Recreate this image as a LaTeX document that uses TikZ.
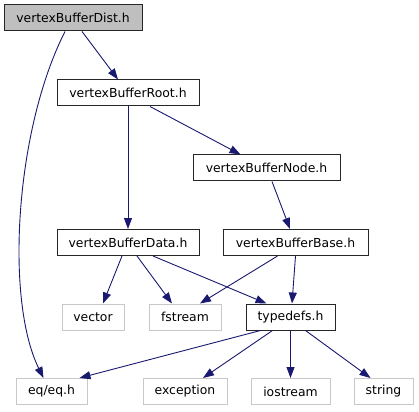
\documentclass[tikz,border=0pt]{standalone}
\usepackage{fontspec}
\setmainfont{DejaVu Sans}
\usetikzlibrary{arrows.meta}
\definecolor{edgeblue}{HTML}{191970}
\definecolor{extgray}{HTML}{C8C8C8}
\definecolor{topgray}{HTML}{BFBFBF}
\tikzset{
  hdr/.style={draw=black!85, line width=1pt, fill=white, minimum height=26pt, inner sep=0pt, font=\fontsize{12.4}{14}\selectfont},
  ext/.style={hdr, draw=extgray, line width=1pt},
  dep/.style={edgeblue, line width=0.9pt, -{Triangle[length=11pt,width=8pt]}}
}
\begin{document}
\begin{tikzpicture}[x=1pt,y=-1pt]
\useasboundingbox (0,0) rectangle (419,411);
% ---- project headers ----
\node[hdr, fill=topgray, minimum width=138pt] (dist) at (73,18) {vertexBufferDist.h};
\node[hdr, minimum width=142pt] (root) at (128,93) {vertexBufferRoot.h};
\node[hdr, minimum width=147pt] (node) at (266.5,168) {vertexBufferNode.h};
\node[hdr, minimum width=142pt] (data) at (128,242.5) {vertexBufferData.h};
\node[hdr, minimum width=145pt] (base) at (295.5,242.5) {vertexBufferBase.h};
\node[hdr, minimum width=89pt] (typedefs) at (290.5,317) {typedefs.h};
% ---- system headers ----
\node[ext, minimum width=62pt] (vector) at (93,317) {vector};
\node[ext, minimum width=72pt] (fstream) at (185,317) {fstream};
\node[ext, minimum width=71pt] (eq) at (51.5,391.5) {eq/eq.h};
\node[ext, minimum width=84pt] (exception) at (185,391.5) {exception};
\node[ext, minimum width=79pt] (iostream) at (290.5,391.5) {iostream};
\node[ext, minimum width=59pt] (string) at (383.5,391.5) {string};
% ---- includes ----
\draw[dep] ([xshift=9pt]dist.south) -- ([xshift=-10pt]root.north);
\draw[dep] ([xshift=-8pt]dist.south) .. controls (15,130) and (5,300) .. ([xshift=-8pt]eq.north);
\draw[dep] (root.south) -- (data.north);
\draw[dep] ([xshift=22pt]root.south) -- ([xshift=-26pt]node.north);
\draw[dep] ([xshift=5.5pt]node.south) -- ([xshift=-5.5pt]base.north);
\draw[dep] ([xshift=-18pt]base.south) -- ([xshift=15pt]fstream.north);
\draw[dep] (base.south) -- ([xshift=1.5pt]typedefs.north);
\draw[dep] ([xshift=-6pt]data.south) -- ([xshift=10pt]vector.north);
\draw[dep] ([xshift=9pt]data.south) -- ([xshift=-13pt]fstream.north);
\draw[dep] ([xshift=25pt]data.south) -- ([xshift=-24pt]typedefs.north);
\draw[dep] ([xshift=-30pt]typedefs.south) -- ([xshift=28pt]eq.north);
\draw[dep] ([xshift=-18pt]typedefs.south) -- ([xshift=18pt]exception.north);
\draw[dep] (typedefs.south) -- (iostream.north);
\draw[dep] ([xshift=15pt]typedefs.south) -- ([xshift=-13pt]string.north);
\end{tikzpicture}
\end{document}
